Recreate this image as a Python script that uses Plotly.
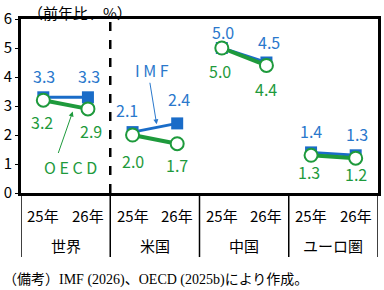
import plotly.graph_objects as go

groups = ["世界", "米国", "中国", "ユーロ圏"]
years = ["25年", "26年"]
imf = [3.3, 3.3, 2.1, 2.4, 5.0, 4.5, 1.4, 1.3]
oecd = [3.2, 2.9, 2.0, 1.7, 5.0, 4.4, 1.3, 1.2]
yticks = [0, 1, 2, 3, 4, 5, 6]

BLUE = "#1a6cc8"
BLUE_T = "#2a78cc"
GREEN = "#1e9a3c"
FONT = "Noto Sans CJK JP, Noto Sans, sans-serif"


def gapped(vals):
    xs, ys = [], []
    for g in range(len(groups)):
        for k in range(2):
            xs.append(g * 2 + k)
            ys.append(vals[g * 2 + k])
        xs.append(None)
        ys.append(None)
    return xs, ys


fig = go.Figure()
xi, yi = gapped(imf)
fig.add_trace(go.Scatter(x=xi, y=yi, mode="lines+markers",
                         line=dict(color=BLUE, width=3),
                         marker=dict(symbol="square", size=12, color=BLUE),
                         connectgaps=False, showlegend=False))
xo, yo = gapped(oecd)
fig.add_trace(go.Scatter(x=xo, y=yo, mode="lines+markers",
                         line=dict(color=GREEN, width=4),
                         marker=dict(symbol="circle", size=13, color="white",
                                     line=dict(color=GREEN, width=2)),
                         connectgaps=False, showlegend=False))

# value labels (pixel offsets)
imf_off = [(1, -21), (1, -21), (-6, -22), (2, -24), (1, -16), (3, -21), (0, -21), (1, -21)]
oecd_off = [(-1, 22), (3, 22), (0, 26), (0, 21), (-2, 23), (0, 24), (-2, 17), (0, 16)]
ann = []
for i, v in enumerate(imf):
    dx, dy = imf_off[i]
    ann.append(dict(x=i, y=v, xref="x", yref="y", text=f"{v:.1f}", showarrow=False,
                    xshift=dx, yshift=-dy, yanchor="middle",
                    font=dict(family=FONT, size=16, color=BLUE_T)))
for i, v in enumerate(oecd):
    dx, dy = oecd_off[i]
    ann.append(dict(x=i, y=v, xref="x", yref="y", text=f"{v:.1f}", showarrow=False,
                    xshift=dx, yshift=-dy, yanchor="middle",
                    font=dict(family=FONT, size=16, color=GREEN)))

# series callouts
ann.append(dict(x=2.54, y=2.37, xref="x", yref="y", text="", showarrow=True,
                ax=-7, ay=-43, arrowhead=2, arrowsize=1, arrowwidth=1, arrowcolor=BLUE_T))
ann.append(dict(x=2.43, y=4.25, xref="x", yref="y", text="I M F", showarrow=False,
                yanchor="middle", font=dict(family=FONT, size=16, color=BLUE_T)))
ann.append(dict(x=0.66, y=2.81, xref="x", yref="y", text="", showarrow=True,
                ax=-15, ay=43, arrowhead=2, arrowsize=1, arrowwidth=1, arrowcolor=GREEN))
ann.append(dict(x=0.6, y=0.9, xref="x", yref="y", text="O E C D", showarrow=False,
                yanchor="middle", font=dict(family=FONT, size=16, color=GREEN)))

# category labels
for g, name in enumerate(groups):
    for k, yr in enumerate(years):
        ann.append(dict(x=g * 2 + k, y=-(215 - 193) / 174, xref="x", yref="paper", text=yr,
                        showarrow=False, yanchor="middle",
                        font=dict(family=FONT, size=15, color="black")))
    ann.append(dict(x=g * 2 + 0.5, y=-(245 - 193) / 174, xref="x", yref="paper", text=name,
                    showarrow=False, yanchor="middle",
                    font=dict(family=FONT, size=15, color="black")))

ann.append(dict(x=0.015, y=(193 - 12) / 174, xref="paper", yref="paper", text="（前年比、%）",
                showarrow=False, xanchor="left", yanchor="middle",
                font=dict(family=FONT, size=15, color="black")))
ann.append(dict(x=-20 / 360, y=-(280 - 193) / 174, xref="paper", yref="paper",
                text="（備考）IMF (2026)、OECD (2025b)により作成。", showarrow=False,
                xanchor="left", yanchor="middle",
                font=dict(family="Liberation Serif, Noto Sans CJK JP, serif",
                          size=14, color="black")))

shapes = []
for xb in [-0.5, 1.5, 3.5, 5.5, 7.5]:
    shapes.append(dict(type="line", x0=xb, x1=xb, y0=0, y1=-0.368, xref="x", yref="paper",
                       line=dict(color="black", width=1.5)))
shapes.append(dict(type="line", x0=1.5, x1=1.5, y0=0, y1=1, xref="x", yref="paper",
                   line=dict(color="black", width=2.5, dash="dash")))

fig.update_layout(
    width=384, height=290,
    margin=dict(l=21, r=3, t=19, b=97),
    plot_bgcolor="white", paper_bgcolor="white",
    annotations=ann, shapes=shapes,
    xaxis=dict(range=[-0.5, 7.5], showticklabels=False, showgrid=False, zeroline=False,
               showline=True, linecolor="black", linewidth=3, mirror=True, ticks=""),
    yaxis=dict(range=[0, 6], tickvals=yticks, showgrid=False, zeroline=False,
               showline=True, linecolor="black", linewidth=3, mirror=True,
               ticks="outside", ticklen=3, tickwidth=1, tickcolor="black",
               tickfont=dict(family=FONT, size=15, color="black")),
)

fig.write_html("out.html")
